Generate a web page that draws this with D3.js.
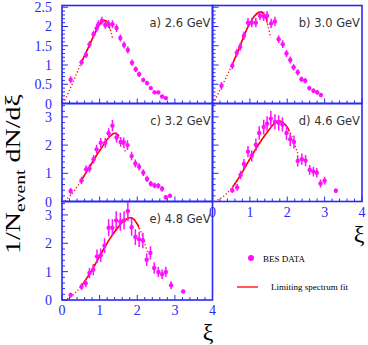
<!DOCTYPE html>
<html><head><meta charset="utf-8">
<script src="https://cdn.jsdelivr.net/npm/d3@7"></script>
<style>body{margin:0;background:#fff}svg{display:block}</style>
</head><body><svg id="c" width="368" height="345"></svg>
<script>
// ---------------- DATA ----------------
const panelLabels = ["a) 2.6 GeV", "b) 3.0 GeV", "c) 3.2 GeV", "d) 4.6 GeV", "e) 4.8 GeV"];

const xiA  = [0.23,0.52,0.64,0.73,0.84,0.92,0.97,1.06,1.15,1.24,1.34,1.45,1.55,1.65,1.75,1.86,1.96,2.05,2.16,2.26,2.36,2.46,2.56,2.66,2.76];
const valA = [0.62,1.07,1.26,1.53,1.80,1.95,2.06,2.15,2.04,2.06,2.06,1.96,1.70,1.52,1.39,1.06,0.89,0.76,0.61,0.53,0.40,0.29,0.29,0.18,0.14];
const errA = [0.09,0.08,0.08,0.09,0.09,0.10,0.10,0.10,0.10,0.10,0.10,0.10,0.09,0.09,0.09,0.08,0.07,0.07,0.06,0.06,0.05,0.05,0.05,0.05,0.05];

const xiB  = [0.24,0.53,0.65,0.74,0.84,0.95,1.05,1.16,1.27,1.37,1.46,1.57,1.67,1.77,1.88,1.98,2.08,2.17,2.28,2.38,2.48,2.59,2.70,2.80,2.90];
const valB = [0.46,0.98,1.32,1.47,1.76,2.10,2.10,2.10,2.28,2.26,2.28,2.08,2.13,1.67,1.54,1.30,1.13,0.94,0.81,0.63,0.59,0.40,0.33,0.29,0.22];
const errB = [0.10,0.09,0.10,0.10,0.11,0.12,0.12,0.12,0.12,0.12,0.12,0.12,0.12,0.10,0.10,0.09,0.09,0.08,0.08,0.07,0.07,0.06,0.06,0.06,0.05];

const xiC  = [0.23,0.52,0.64,0.73,0.84,0.92,1.03,1.15,1.24,1.34,1.45,1.56,1.64,1.74,1.85,1.95,2.05,2.16,2.26,2.36,2.46,2.56,2.66,2.76,2.87];
const valC = [0.37,0.75,1.14,1.17,1.50,1.85,2.08,2.08,2.42,2.69,2.27,2.11,2.10,2.00,1.61,1.35,1.23,1.02,0.80,0.63,0.57,0.56,0.45,0.15,0.20];
const errC = [0.12,0.13,0.14,0.14,0.15,0.16,0.17,0.17,0.18,0.20,0.18,0.17,0.17,0.17,0.15,0.14,0.13,0.12,0.11,0.10,0.10,0.10,0.10,0.08,0.08];

const xiD  = [0.53,0.66,0.75,0.84,0.95,1.05,1.16,1.25,1.37,1.46,1.56,1.67,1.77,1.87,1.98,2.08,2.18,2.28,2.39,2.49,2.60,2.70,2.79,2.89,3.00,3.30];
const valD = [0.40,0.50,0.94,1.33,1.77,1.62,2.01,2.43,2.64,2.76,2.94,2.82,2.79,2.73,2.43,2.21,2.11,1.44,1.50,1.45,1.12,1.06,1.02,0.64,0.74,0.38];
const errD = [0.10,0.12,0.15,0.18,0.20,0.20,0.22,0.24,0.26,0.26,0.28,0.27,0.27,0.26,0.25,0.24,0.23,0.20,0.20,0.20,0.17,0.17,0.17,0.14,0.14,0.08];

const xiE  = [0.23,0.52,0.63,0.73,0.83,0.93,1.03,1.13,1.24,1.34,1.44,1.55,1.65,1.75,1.85,1.95,2.05,2.15,2.25,2.35,2.45,2.56,2.66,2.76,2.90,3.22];
const valE = [0.18,0.47,0.59,0.95,1.07,1.54,1.58,1.92,2.55,2.55,2.81,2.76,2.81,3.14,2.57,2.22,2.14,2.10,1.42,1.66,1.13,0.99,0.91,0.99,0.52,0.30];
const errE = [0.08,0.12,0.14,0.18,0.20,0.24,0.24,0.26,0.30,0.30,0.32,0.32,0.32,0.34,0.30,0.28,0.27,0.27,0.22,0.24,0.20,0.18,0.17,0.18,0.14,0.06];

// Limiting spectrum fit curves
const fitXA = [0.04,0.20,0.35,0.51,0.70,0.88,1.01,1.13,1.22,1.28,1.34];
const fitYA = [0.00,0.35,0.68,1.06,1.45,1.84,2.08,2.16,2.10,1.95,1.70];
const fitXB = [0.02,0.20,0.40,0.53,0.70,0.85,1.00,1.15,1.29,1.40,1.47,1.55];
const fitYB = [0.00,0.35,0.75,1.02,1.40,1.78,2.08,2.30,2.38,2.28,2.10,1.71];
const fitXC = [0.08,0.25,0.40,0.50,0.70,0.90,1.10,1.25,1.40,1.50,1.60,1.70];
const fitYC = [0.02,0.25,0.52,0.73,1.15,1.60,2.00,2.28,2.42,2.35,2.10,1.69];
const fitXD = [0.05,0.20,0.35,0.53,0.75,0.90,1.05,1.20,1.35,1.50,1.62,1.74,1.85,1.95,2.04,2.15,2.28];
const fitYD = [0.00,0.10,0.25,0.50,0.94,1.28,1.62,1.95,2.25,2.52,2.72,2.85,2.83,2.72,2.55,2.20,1.71];
const fitXE = [0.05,0.20,0.35,0.50,0.70,0.90,1.10,1.30,1.50,1.65,1.80,1.90,2.00,2.10,2.20,2.27];
const fitYE = [0.00,0.08,0.25,0.47,0.85,1.30,1.78,2.22,2.58,2.80,2.90,2.86,2.68,2.40,2.00,1.70];
const fitRanges = [[0.50,1.28],[0.53,1.47],[0.50,1.52],[0.53,2.05],[0.50,2.05]];

const yTicksLow  = [0, 0.5, 1, 1.5, 2, 2.5];
const yTicksHigh = [0, 1, 2, 3];
const xTicks     = [0, 1, 2, 3, 4];
const legendLabels = ["BES DATA", "Limiting spectrum fit"];

// ---------------- LAYOUT ----------------
const BLUE = "#2a2af5", MAG = "#ff10ff", RED = "#ff0000";
const SERIF = "Liberation Serif, Times New Roman, serif";
const svg = d3.select("#c");
const cols = [[62, 212.5], [212.5, 362]];
const rows = [[5.5, 103.5], [103.5, 201.5], [201.5, 300]];

const panels = [
  {col:0,row:0,ymax:2.545,yt:yTicksLow, ym:0.1, xi:xiA,v:valA,e:errA,fx:fitXA,fy:fitYA,yl:true, xl:false},
  {col:1,row:0,ymax:2.545,yt:yTicksLow, ym:0.1, xi:xiB,v:valB,e:errB,fx:fitXB,fy:fitYB,yl:false,xl:false},
  {col:0,row:1,ymax:3.475,yt:yTicksHigh,ym:0.2, xi:xiC,v:valC,e:errC,fx:fitXC,fy:fitYC,yl:true, xl:false},
  {col:1,row:1,ymax:3.475,yt:yTicksHigh,ym:0.2, xi:xiD,v:valD,e:errD,fx:fitXD,fy:fitYD,yl:false,xl:true},
  {col:0,row:2,ymax:3.475,yt:yTicksHigh,ym:0.2, xi:xiE,v:valE,e:errE,fx:fitXE,fy:fitYE,yl:true, xl:true},
];

panels.forEach((p, i) => {
  const [x0, x1] = cols[p.col], [y0, y1] = rows[p.row];
  const x = d3.scaleLinear().domain([0, 4]).range([x0, x1]);
  const y = d3.scaleLinear().domain([0, p.ymax]).range([y1, y0]);
  const g = svg.append("g");

  const cid = "clip" + i;
  svg.append("clipPath").attr("id", cid).append("rect")
    .attr("x", x0).attr("y", y0).attr("width", x1 - x0).attr("height", y1 - y0);
  const gc = g.append("g").attr("clip-path", `url(#${cid})`);

  // fit curve
  const pts = p.fx.map((v, k) => [v, p.fy[k]]);
  const line = d3.line().x(d => x(d[0])).y(d => y(d[1])).curve(d3.curveCatmullRom);
  const [r0, r1] = fitRanges[i];
  gc.append("path").attr("d", line(pts)).attr("fill", "none")
    .attr("stroke", RED).attr("stroke-width", 1.3).attr("stroke-dasharray", "1.2,2.2");
  const solidClip = "sclip" + i;
  svg.append("clipPath").attr("id", solidClip).append("rect")
    .attr("x", x(r0)).attr("y", y0).attr("width", x(r1) - x(r0)).attr("height", y1 - y0);
  gc.append("g").attr("clip-path", `url(#${solidClip})`)
    .append("path").attr("d", line(pts)).attr("fill", "none")
    .attr("stroke", RED).attr("stroke-width", 1.6);

  // data points with error bars
  p.xi.forEach((xv, k) => {
    const yv = p.v[k], ev = p.e[k];
    gc.append("line").attr("x1", x(xv)).attr("x2", x(xv))
      .attr("y1", y(yv - ev)).attr("y2", y(yv + ev))
      .attr("stroke", MAG).attr("stroke-width", 1.5);
    gc.append("circle").attr("cx", x(xv)).attr("cy", y(yv)).attr("r", 2.2).attr("fill", MAG);
  });

  // x ticks (bottom, inside)
  d3.range(0, 4.001, 0.2).forEach(t => {
    const major = Math.abs(t - Math.round(t)) < 1e-6;
    g.append("line").attr("x1", x(t)).attr("x2", x(t))
      .attr("y1", y1).attr("y2", y1 - (major ? 5 : 3))
      .attr("stroke", BLUE).attr("stroke-width", 1);
  });
  // y ticks (left, inside)
  d3.range(0, p.ymax + 1e-6, p.ym).forEach(t => {
    const major = p.yt.some(m => Math.abs(m - t) < 1e-6);
    g.append("line").attr("x1", x0).attr("x2", x0 + (major ? 6 : 3))
      .attr("y1", y(t)).attr("y2", y(t))
      .attr("stroke", BLUE).attr("stroke-width", 1);
  });

  // frame
  g.append("rect").attr("x", x0).attr("y", y0).attr("width", x1 - x0).attr("height", y1 - y0)
    .attr("fill", "none").attr("stroke", BLUE).attr("stroke-width", 1.6);

  if (p.yl) {
    p.yt.forEach(t => {
      g.append("text").attr("x", 52).attr("y", y(t) + 5)
        .attr("text-anchor", "end").attr("font-family", SERIF)
        .attr("font-size", 14).attr("fill", BLUE).text(t);
    });
  }
  if (p.xl) {
    xTicks.forEach(t => {
      g.append("text").attr("x", x(t)).attr("y", y1 + 15)
        .attr("text-anchor", "middle").attr("font-family", SERIF)
        .attr("font-size", 14).attr("fill", BLUE).text(t);
    });
  }
  g.append("text").attr("x", x1 - 2).attr("y", y0 + 21)
    .attr("text-anchor", "end").attr("font-family", "DejaVu Sans, sans-serif")
    .attr("font-size", 11.5).attr("fill", "#333").text(panelLabels[i]);
});

// y axis title (stretched like the original)
const yt = svg.append("text").attr("transform", "translate(20,254) rotate(-90)")
  .attr("font-family", SERIF).attr("font-size", 20).attr("fill", "#000")
  .attr("textLength", 160).attr("lengthAdjust", "spacingAndGlyphs");
yt.append("tspan").text("1/N");
yt.append("tspan").attr("font-size", 14).attr("dy", 5).text("event");
yt.append("tspan").attr("dy", -5).text(" dN/dξ");

[[208, 340], [359, 242]].forEach(([px, py]) => {
  svg.append("text").attr("x", px).attr("y", py).attr("text-anchor", "middle")
    .attr("font-family", SERIF).attr("font-size", 24)
    .attr("fill", "#000").text("ξ");
});

// legend
svg.append("circle").attr("cx", 251).attr("cy", 258).attr("r", 3).attr("fill", MAG);
svg.append("text").attr("x", 263).attr("y", 261.5).attr("font-family", SERIF)
  .attr("font-size", 9).attr("fill", "#000").text(legendLabels[0]);
svg.append("line").attr("x1", 237).attr("x2", 258).attr("y1", 287).attr("y2", 287)
  .attr("stroke", RED).attr("stroke-width", 1.3);
svg.append("text").attr("x", 271).attr("y", 290).attr("font-family", SERIF)
  .attr("font-size", 9).attr("fill", "#000").text(legendLabels[1]);
</script></body></html>
